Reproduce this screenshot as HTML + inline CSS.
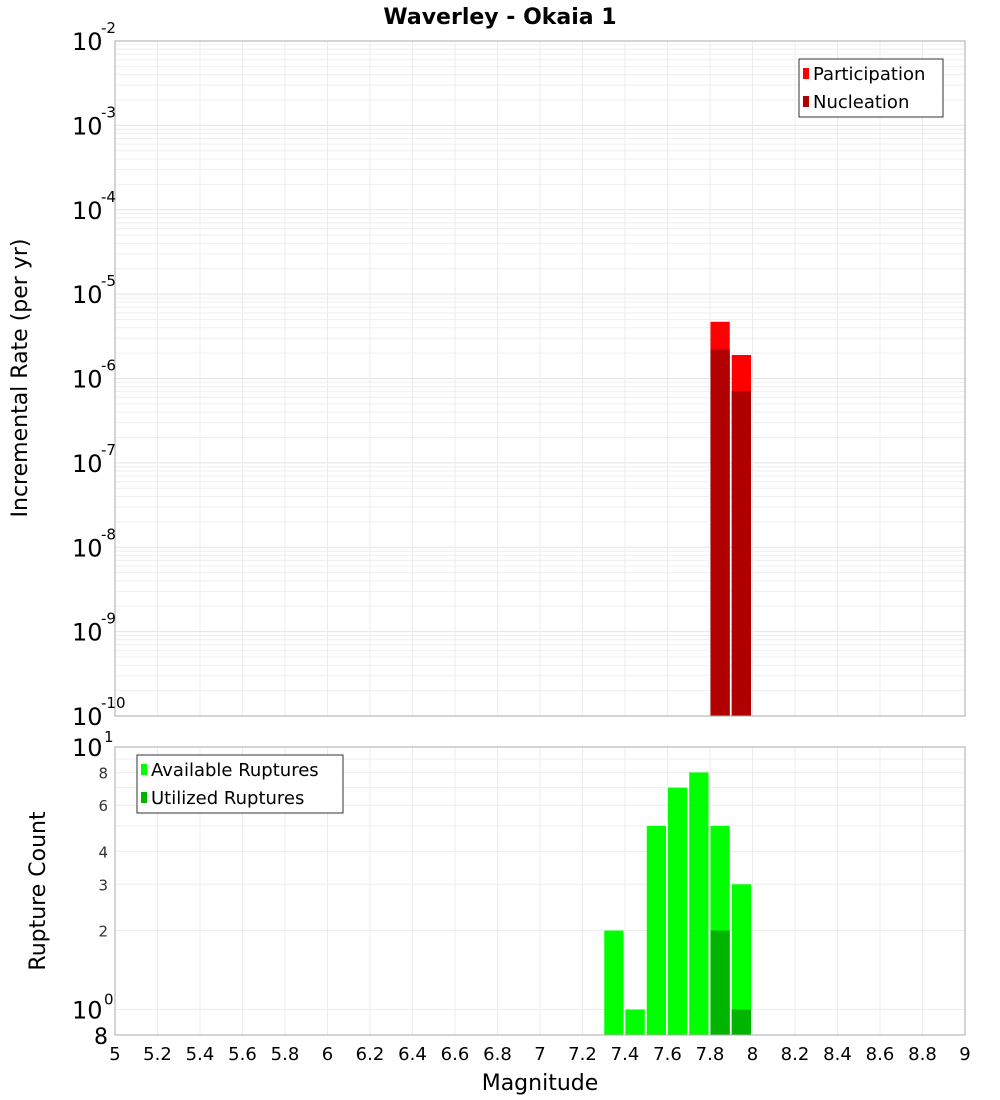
<!DOCTYPE html>
<html><head><meta charset="utf-8"><style>
body{margin:0;background:#fff;font-family:"DejaVu Sans","Liberation Sans",sans-serif}
svg{display:block;font-family:"DejaVu Sans","Liberation Sans",sans-serif}
</style></head><body>
<svg id="c" width="1000" height="1100" xmlns="http://www.w3.org/2000/svg"></svg>
<script>
const mags=[7.35,7.45,7.55,7.65,7.75,7.85,7.95];
const available=[2,1,5,7,8,5,3];
const utilized=[0,0,0,0,0,2,1];
const rateMags=[7.85,7.95];
const participation=[4.7e-6,1.9e-6];
const nucleation=[2.2e-6,7.1e-7];
const xTicks=[5,5.2,5.4,5.6,5.8,6,6.2,6.4,6.6,6.8,7,7.2,7.4,7.6,7.8,8,8.2,8.4,8.6,8.8,9];
const topExps=[-2,-3,-4,-5,-6,-7,-8,-9,-10];
const botTicks=[8,6,4,3,2];

const NS="http://www.w3.org/2000/svg";
const svg=document.getElementById('c');
function el(t,a,p){const e=document.createElementNS(NS,t);for(const k in a)e.setAttribute(k,a[k]);(p||svg).appendChild(e);return e;}
const X0=115,X1=965;
const x=m=>X0+(m-5)/4*(X1-X0);
const T0=41,T1=716;
const yT=v=>T0+(-2-Math.log10(v))/8*(T1-T0);
const B0=747,B1=1035,bmin=Math.log10(0.8);
const yB=v=>B1-(Math.log10(v)-bmin)/(1-bmin)*(B1-B0);

let g=el('g',{});

for(let e=-10;e<-2;e++)for(let k=1;k<10;k++){const y=yT(k*Math.pow(10,e));el('line',{x1:X0,x2:X1,y1:y,y2:y,stroke:k==1?'#e4e4e4':'#efefef','stroke-width':1},g);}
xTicks.forEach(t=>{el('line',{x1:x(t),x2:x(t),y1:T0,y2:T1,stroke:'#ececec'},g);});
let g2=el('g',{});

[0.8,1,2,3,4,5,6,7,8,9,10].forEach(v=>{const y=yB(v);el('line',{x1:X0,x2:X1,y1:y,y2:y,stroke:'#ececec'},g2);});
xTicks.forEach(t=>{el('line',{x1:x(t),x2:x(t),y1:B0,y2:B1,stroke:'#ececec'},g2);});

const bw=(x(0.1+5)-x(5));
rateMags.forEach((m,i)=>{
 const r=el('rect',{x:x(m-0.05)+0.5,y:yT(participation[i]),width:bw-2,height:T1-yT(participation[i]),fill:'#ff0000'});
 
 const n=el('rect',{x:x(m-0.05)+0.5,y:yT(nucleation[i]),width:bw-2,height:T1-yT(nucleation[i]),fill:'#b00000'});
 
});
mags.forEach((m,i)=>{
 const r=el('rect',{x:x(m-0.05)+0.5,y:yB(available[i]),width:bw-2,height:B1-yB(available[i]),fill:'#00ff00'});
 
 if(utilized[i]>0){const u=el('rect',{x:x(m-0.05)+0.5,y:yB(utilized[i]),width:bw-2,height:B1-yB(utilized[i]),fill:'#00b400'});
 }
});
el('rect',{x:X0,y:T0,width:X1-X0,height:T1-T0,fill:'none',stroke:'#aaa'});
el('rect',{x:X0,y:B0,width:X1-X0,height:B1-B0,fill:'none',stroke:'#aaa'});

topExps.forEach(e=>{const y=yT(Math.pow(10,e));
 const t=el('text',{x:72,y:y+9,'font-size':24,fill:'#000'});t.textContent='10';
 
 const s=el('text',{x:101,y:y-8,'font-size':15,fill:'#000'});s.textContent=String(e);
 
});
botTicks.forEach(v=>{const y=yB(v);const t=el('text',{x:108,y:y+6,'font-size':15,'text-anchor':'end',fill:'#333'});t.textContent=v;
 });
[[10,'1'],[1,'0']].forEach(([v,ex])=>{const y=yB(v);const t=el('text',{x:72,y:y+9,'font-size':24});t.textContent='10';
 
 const s=el('text',{x:104,y:y-5,'font-size':15});s.textContent=ex;
 });
{const t=el('text',{x:94,y:B1+9,'font-size':22});t.textContent='8';}
xTicks.forEach(t=>{const s=el('text',{x:x(t),y:1060,'font-size':18,'text-anchor':'middle'});s.textContent=String(t);
 });
let tt=el('text',{x:500,y:24,'font-size':22,'font-weight':'bold','text-anchor':'middle'});tt.textContent='Waverley - Okaia 1';

let xt=el('text',{x:540,y:1090,'font-size':22,'text-anchor':'middle'});xt.textContent='Magnitude';

let yt=el('text',{x:0,y:0,'font-size':22,'text-anchor':'middle',transform:'translate(27,378) rotate(-90)'});yt.textContent='Incremental Rate (per yr)';

let yt2=el('text',{x:0,y:0,'font-size':22,'text-anchor':'middle',transform:'translate(45,891) rotate(-90)'});yt2.textContent='Rupture Count';

function legend(x0,y0,w,items,name){const lg=el('g',{});
 el('rect',{x:x0,y:y0,width:w,height:58,fill:'#fff',stroke:'#333'},lg);
 items.forEach(([c,l],i)=>{el('rect',{x:x0+4,y:y0+9+i*28,width:6,height:11,fill:c},lg);
 const t=el('text',{x:x0+14,y:y0+21+i*28,'font-size':18},lg);t.textContent=l;
 });}
legend(799,59,144,[['#ff0000','Participation'],['#b00000','Nucleation']],'top-legend');
legend(137,755,206,[['#00ff00','Available Ruptures'],['#00b400','Utilized Ruptures']],'bottom-legend');
</script>
</body></html>
